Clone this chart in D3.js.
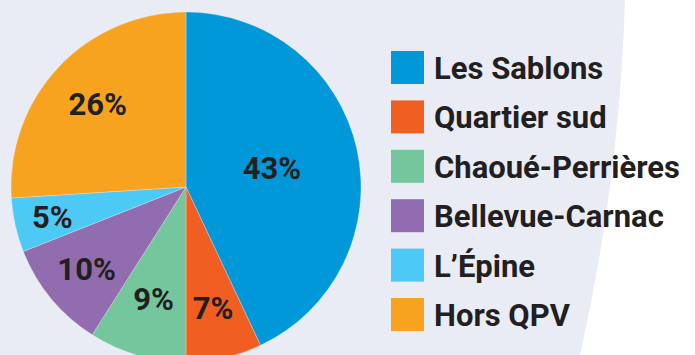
<!DOCTYPE html>
<html lang="fr">
<head>
<meta charset="utf-8">
<script src="https://cdn.jsdelivr.net/npm/d3@7"></script>
<style>
  html, body { margin: 0; padding: 0; background: #ffffff; }
  svg { display: block; }
  text { font-family: Roboto, "DejaVu Sans", sans-serif; font-weight: 700; fill: #231f20; }
</style>
</head>
<body>
<svg id="chart" width="695" height="355"></svg>
<script>
// Répartition par quartier (en %)
const categories = ["Les Sablons", "Quartier sud", "Chaoué-Perrières", "Bellevue-Carnac", "L\u2019Épine", "Hors QPV"];
const values = [43, 7, 9, 10, 5, 26];
const colors = ["#0098d9", "#f15e22", "#74c69d", "#916daf", "#4dc9f5", "#f8a31f"];

const W = 695, H = 355;
const svg = d3.select("#chart");

// Fond bleuté avec une courbe blanche à droite
svg.append("rect").attr("width", W).attr("height", H).attr("fill", "#ffffff");
const bg = d3.path();
const bigR = 1908, bcx = -1282, bcy = -61;
bg.moveTo(0, 0);
bg.lineTo(bcx + Math.sqrt(bigR * bigR - bcy * bcy), 0);
bg.arc(bcx, bcy, bigR, Math.asin((0 - bcy) / bigR), Math.asin((H - bcy) / bigR), false);
bg.lineTo(0, H);
bg.closePath();
svg.append("path").attr("d", bg.toString()).attr("fill", "#e9ebf5");

// Camembert
const cx = 186, cy = 187, R = 175;
const color = d3.scaleOrdinal().domain(categories).range(colors);
const pie = d3.pie().sort(null).value(d => d.value);
const data = categories.map((c, i) => ({ name: c, value: values[i] }));
const arcs = pie(data);
const arc = d3.arc().innerRadius(0).outerRadius(R);

const g = svg.append("g").attr("transform", `translate(${cx},${cy})`);
g.selectAll("path.slice")
  .data(arcs)
  .join("path")
  .attr("class", "slice")
  .attr("d", arc)
  .attr("fill", d => color(d.data.name))
  .attr("stroke", "#ffffff")
  .attr("stroke-opacity", 0.5)
  .attr("stroke-width", 0.5);

// Étiquettes de pourcentage, distance au centre propre à chaque part
const labelDist = [88, 124, 116, 129, 137, 121];
g.selectAll("text.pct")
  .data(arcs)
  .join("text")
  .attr("class", "pct")
  .attr("transform", (d, i) => {
    const [x, y] = d3.arc().innerRadius(labelDist[i]).outerRadius(labelDist[i]).centroid(d);
    return `translate(${x},${y})`;
  })
  .attr("text-anchor", "middle")
  .attr("dy", "0.36em")
  .attr("font-size", 31)
  .text(d => d.data.value + "%");

// Légende
const ly = d3.scalePoint().domain(categories).range([51, 298]);
const leg = svg.append("g").selectAll("g")
  .data(categories)
  .join("g")
  .attr("transform", d => `translate(391,${ly(d)})`);
leg.append("rect")
  .attr("width", 33).attr("height", 33)
  .attr("fill", d => color(d));
leg.append("text")
  .attr("x", 43).attr("y", 28)
  .attr("font-size", 31)
  .text(d => d);
</script>
</body>
</html>
